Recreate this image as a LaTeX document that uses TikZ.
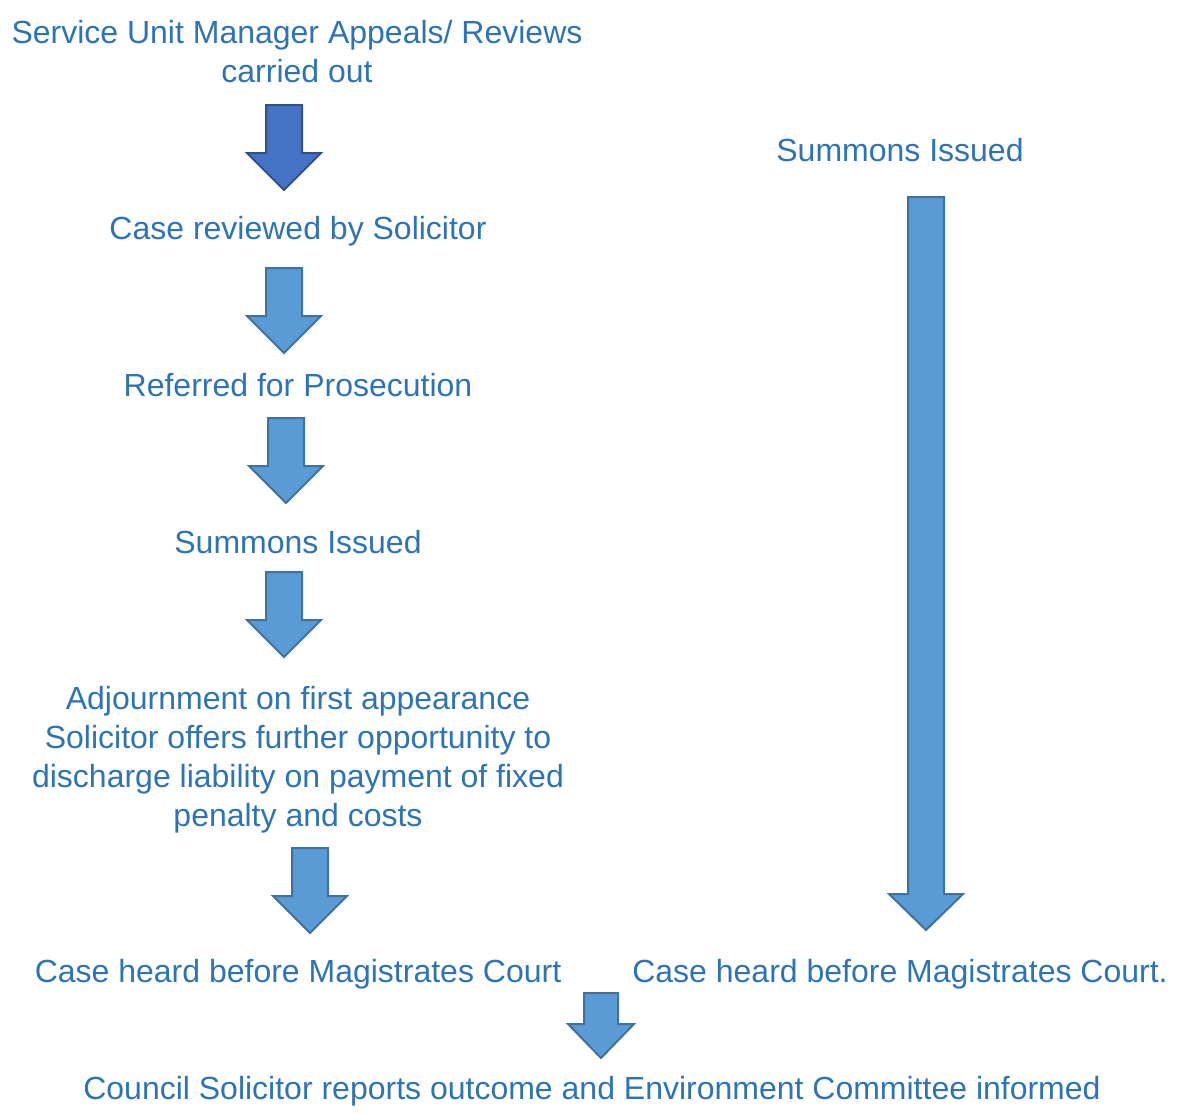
\documentclass[tikz,border=0pt]{standalone}
\usepackage{fontspec}
\setmainfont{Liberation Sans}
\definecolor{txt}{HTML}{2E74B5}
\definecolor{afill}{HTML}{5B9BD5}
\definecolor{aline}{HTML}{41719C}
\definecolor{dfill}{HTML}{4472C4}
\definecolor{dline}{HTML}{2F528F}
\newcommand\barrow[7]{\draw[#1] (#2-#6,#3) -- (#2+#6,#3) -- (#2+#6,#4) -- (#2+#7,#4) -- (#2,#5) -- (#2-#7,#4) -- (#2-#6,#4) -- cycle;}
\begin{document}
\begin{tikzpicture}[x=0.75pt,y=-0.75pt,
  lbl/.style={text=txt, font=\fontsize{24}{29.25}\selectfont, align=center, inner sep=0pt, anchor=base},
  blk/.style={fill=afill, draw=aline, line width=1.5pt, line join=miter},
  dblk/.style={fill=dfill, draw=dline, line width=1.5pt, line join=miter}]
\useasboundingbox (0,0) rectangle (1177,1113);
\node[lbl] (t1) at (297,83) {Service Unit Manager Appeals/ Reviews\\carried out};
\node[lbl] (t2) at (298,239) {Case reviewed by Solicitor};
\node[lbl] (t3) at (298,396) {Referred for Prosecution};
\node[lbl] (t4) at (298,553) {Summons Issued};
\node[lbl] (t5) at (298,826) {Adjournment on first appearance\\Solicitor offers further opportunity to\\discharge liability on payment of fixed\\penalty and costs};
\node[lbl] (t6) at (298,982) {Case heard before Magistrates Court};
\node[lbl] (r1) at (900,161) {Summons Issued};
\node[lbl] (r2) at (900,982) {Case heard before Magistrates Court.};
\node[lbl] (b1) at (592,1099) {Council Solicitor reports outcome and Environment Committee informed};
\barrow{dblk}{284}{105}{153}{190}{18}{37}
\barrow{blk}{284}{268}{316}{353}{18}{37}
\barrow{blk}{286}{418}{466}{503}{18}{37}
\barrow{blk}{284}{572}{620}{657}{18}{37}
\barrow{blk}{310}{848}{896}{933}{18}{37}
\barrow{blk}{926}{197}{894}{930}{18}{37}
\barrow{blk}{601}{993}{1024}{1058}{17}{33}
\end{tikzpicture}
\end{document}
